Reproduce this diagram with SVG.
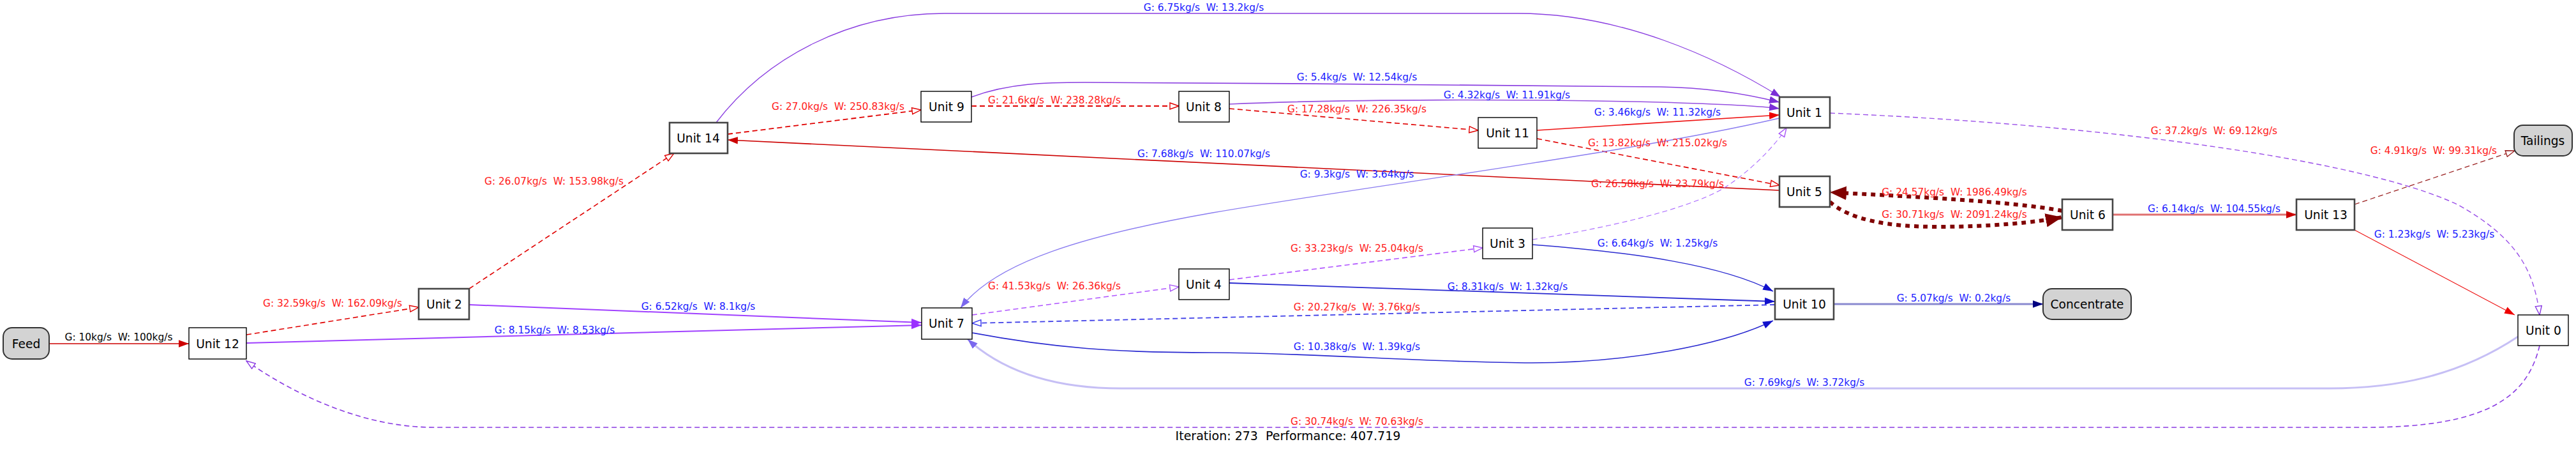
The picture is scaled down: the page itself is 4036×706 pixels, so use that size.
<svg xmlns="http://www.w3.org/2000/svg" width="4036" height="706" viewBox="0 0 4036 706">
<style>
.nd rect{fill:#fff;stroke:#000;stroke-width:1.4}
.nd.g rect{stroke:#454545;stroke-width:2.6}
.nd.t rect{fill:#d3d3d3;stroke:#333;stroke-width:2}
.nd text{font-family:"DejaVu Sans",sans-serif;font-size:18.67px;fill:#000;text-anchor:middle}
.e path{fill:none}
.lb text{font-family:"DejaVu Sans",sans-serif;font-size:15.4px;text-anchor:middle;white-space:pre}
.r{fill:#ff1a1a}.b{fill:#1a1aff}.k{fill:#000}
.d{stroke-dasharray:8,5}
.title{font-family:"DejaVu Sans",sans-serif;font-size:19px;fill:#000;text-anchor:middle;white-space:pre}
</style>
<defs>
<marker id="fR" markerUnits="userSpaceOnUse" markerWidth="16" markerHeight="12" refX="14" refY="5" orient="auto" viewBox="0 0 14 10"><path d="M0,0L14,5L0,10z" fill="#cc0000"/></marker>
<marker id="fR2" markerUnits="userSpaceOnUse" markerWidth="16" markerHeight="12" refX="14" refY="5" orient="auto" viewBox="0 0 14 10"><path d="M0,0L14,5L0,10z" fill="#ee0000"/></marker>
<marker id="oR" markerUnits="userSpaceOnUse" markerWidth="16" markerHeight="12" refX="14" refY="5" orient="auto" viewBox="-1 -1 16 12"><path d="M0,0L14,5L0,10z" fill="#fff" stroke="#e00000" stroke-width="1.4"/></marker>
<marker id="oDR" markerUnits="userSpaceOnUse" markerWidth="16" markerHeight="12" refX="14" refY="5" orient="auto" viewBox="-1 -1 16 12"><path d="M0,0L14,5L0,10z" fill="#fff" stroke="#9a2020" stroke-width="1.4"/></marker>
<marker id="fP" markerUnits="userSpaceOnUse" markerWidth="16" markerHeight="12" refX="14" refY="5" orient="auto" viewBox="0 0 14 10"><path d="M0,0L14,5L0,10z" fill="#9b30ff"/></marker>
<marker id="fV" markerUnits="userSpaceOnUse" markerWidth="16" markerHeight="12" refX="14" refY="5" orient="auto" viewBox="0 0 14 10"><path d="M0,0L14,5L0,10z" fill="#7b2fd6"/></marker>
<marker id="oP" markerUnits="userSpaceOnUse" markerWidth="16" markerHeight="12" refX="14" refY="5" orient="auto" viewBox="-1 -1 16 12"><path d="M0,0L14,5L0,10z" fill="#fff" stroke="#a855f7" stroke-width="1.4"/></marker>
<marker id="oV" markerUnits="userSpaceOnUse" markerWidth="16" markerHeight="12" refX="14" refY="5" orient="auto" viewBox="-1 -1 16 12"><path d="M0,0L14,5L0,10z" fill="#fff" stroke="#8a3be2" stroke-width="1.4"/></marker>
<marker id="fL" markerUnits="userSpaceOnUse" markerWidth="16" markerHeight="12" refX="14" refY="5" orient="auto" viewBox="0 0 14 10"><path d="M0,0L14,5L0,10z" fill="#7b68ee"/></marker>
<marker id="fB" markerUnits="userSpaceOnUse" markerWidth="16" markerHeight="12" refX="14" refY="5" orient="auto" viewBox="0 0 14 10"><path d="M0,0L14,5L0,10z" fill="#1111cc"/></marker>
<marker id="oB" markerUnits="userSpaceOnUse" markerWidth="16" markerHeight="12" refX="14" refY="5" orient="auto" viewBox="-1 -1 16 12"><path d="M0,0L14,5L0,10z" fill="#fff" stroke="#3333ee" stroke-width="1.4"/></marker>
<marker id="fN" markerUnits="userSpaceOnUse" markerWidth="16" markerHeight="12" refX="14" refY="5" orient="auto" viewBox="0 0 14 10"><path d="M0,0L14,5L0,10z" fill="#000080"/></marker>
<marker id="fDR" markerUnits="userSpaceOnUse" markerWidth="26" markerHeight="22" refX="24" refY="10" orient="auto" viewBox="0 0 24 20"><path d="M0,0L24,10L0,20z" fill="#800000"/></marker>
</defs>

<g id="edges" class="e">
<path id="e_feed_12" d="M77,538L296,538" stroke="#cc0000" stroke-width="1.6" marker-end="url(#fR)"/>
<path id="e_12_2" class="d" d="M386,524L656,481" stroke="#e00000" stroke-width="1.6" marker-end="url(#oR)"/>
<path id="e_12_7" d="M386,537L1444,509" stroke="#a040ff" stroke-width="2" marker-end="url(#fP)"/>
<path id="e_2_7" d="M735,477L1444,505" stroke="#a040ff" stroke-width="2" marker-end="url(#fP)"/>
<path id="e_2_14" class="d" d="M735,452L1056,240" stroke="#e00000" stroke-width="1.6" marker-end="url(#oR)"/>
<path id="e_14_9" class="d" d="M1140,210L1443,172" stroke="#e00000" stroke-width="1.8" marker-end="url(#oR)"/>
<path id="e_5_14" d="M2788,298L1140,219" stroke="#cc0000" stroke-width="1.6" marker-end="url(#fR)"/>
<path id="e_14_1" d="M1122,192C1200,90 1330,21 1480,21L2378,21C2540,21 2690,90 2790,152" stroke="#8a3ee0" stroke-width="1.3" marker-end="url(#fV)"/>
<path id="e_9_8" class="d" d="M1522,166L1847,166" stroke="#e00000" stroke-width="1.8" marker-end="url(#oR)"/>
<path id="e_9_1" d="M1522,152C1580,130 1640,129 1700,129C2000,129 2400,136 2602,136C2680,137 2740,148 2788,160" stroke="#8a3ee0" stroke-width="1.6" marker-end="url(#fV)"/>
<path id="e_8_1" d="M1926,163C2100,155 2400,155 2600,160C2700,163 2760,166 2788,170" stroke="#9650e0" stroke-width="1.6" marker-end="url(#fV)"/>
<path id="e_8_11" class="d" d="M1926,170L2316,204" stroke="#e00000" stroke-width="1.6" marker-end="url(#oR)"/>
<path id="e_11_1" d="M2408,204L2788,180" stroke="#ee1111" stroke-width="1.6" marker-end="url(#fR2)"/>
<path id="e_11_5" class="d" d="M2408,217L2788,290" stroke="#e00000" stroke-width="1.6" marker-end="url(#oR)"/>
<path id="e_1_7" d="M2788,185C2550,240 2150,290 1900,333C1700,368 1560,410 1505,482" stroke="#8a7cf0" stroke-width="1.3" marker-end="url(#fL)"/>
<path id="e_3_1" class="d" d="M2401,375C2500,360 2640,330 2700,295C2740,270 2780,230 2799,200" stroke="#a866ff" stroke-width="1.1" marker-end="url(#oP)"/>
<path id="e_1_0" class="d" d="M2867,177C3300,195 3700,250 3850,320C3940,370 3970,420 3979,493" stroke="#9a4ee8" stroke-width="1.4" marker-end="url(#oV)"/>
<path id="e_13_0" d="M3689,360L3940,493" stroke="#ee1111" stroke-width="1.1" marker-end="url(#fR2)"/>
<path id="e_13_t" class="d" d="M3689,320L3940,236" stroke="#9a2020" stroke-width="1.3" marker-end="url(#oDR)"/>
<path id="e_6_13" d="M3310,336L3598,336" stroke="#e07070" stroke-width="2.8" marker-end="url(#fR)"/>
<path id="e_6_5" d="M3231,330C3150,315 3000,308 2867,301" stroke="#800000" stroke-width="6" stroke-dasharray="7,7" marker-end="url(#fDR)"/>
<path id="e_5_6" d="M2867,316C2900,345 2960,355 3036,355C3120,355 3190,348 3231,340" stroke="#800000" stroke-width="6" stroke-dasharray="7,7" marker-end="url(#fDR)"/>
<path id="e_10_c" d="M2873,476L3201,476" stroke="#8a8ad0" stroke-width="3" marker-end="url(#fN)"/>
<path id="e_0_7" d="M3945,527C3850,590 3750,608 3650,608L1757,608C1650,608 1570,580 1516,531" stroke="#c6bff5" stroke-width="3" marker-end="url(#fL)"/>
<path id="e_0_12" class="d" d="M3979,541C3960,620 3900,669 3706,669L680,669C560,669 450,610 386,565" stroke="#8a3be2" stroke-width="1.6" marker-end="url(#oV)"/>
<path id="e_10_7" class="d" d="M2781,477L1523,506" stroke="#4040e8" stroke-width="1.8" marker-end="url(#oB)"/>
<path id="e_7_10" d="M1523,521C1650,545 1750,552 1900,552C2050,552 2250,568 2400,568C2550,568 2700,540 2778,502" stroke="#2a2ad0" stroke-width="1.6" marker-end="url(#fB)"/>
<path id="e_7_4" class="d" d="M1523,493L1847,449" stroke="#b055ff" stroke-width="1.6" marker-end="url(#oP)"/>
<path id="e_4_3" class="d" d="M1926,438L2323,388" stroke="#b055ff" stroke-width="1.6" marker-end="url(#oP)"/>
<path id="e_4_10" d="M1926,443L2781,472" stroke="#2a2ad0" stroke-width="1.8" marker-end="url(#fB)"/>
<path id="e_3_10" d="M2401,383C2560,395 2700,415 2778,456" stroke="#2a2ad0" stroke-width="1.5" marker-end="url(#fB)"/>
</g>

<g id="edge-labels" class="lb" xml:space="preserve"><text class="k" x="186" y="533">G: 10kg/s  W: 100kg/s</text><text class="r" x="521" y="480">G: 32.59kg/s  W: 162.09kg/s</text><text class="b" x="869" y="522">G: 8.15kg/s  W: 8.53kg/s</text><text class="b" x="1094" y="485">G: 6.52kg/s  W: 8.1kg/s</text><text class="r" x="868" y="289">G: 26.07kg/s  W: 153.98kg/s</text><text class="r" x="1313" y="172">G: 27.0kg/s  W: 250.83kg/s</text><text class="b" x="1886" y="17">G: 6.75kg/s  W: 13.2kg/s</text><text class="r" x="1652" y="162">G: 21.6kg/s  W: 238.28kg/s</text><text class="b" x="2126" y="126">G: 5.4kg/s  W: 12.54kg/s</text><text class="b" x="2361" y="154">G: 4.32kg/s  W: 11.91kg/s</text><text class="r" x="2126" y="176">G: 17.28kg/s  W: 226.35kg/s</text><text class="b" x="2597" y="181">G: 3.46kg/s  W: 11.32kg/s</text><text class="r" x="2597" y="229">G: 13.82kg/s  W: 215.02kg/s</text><text class="b" x="1886" y="246">G: 7.68kg/s  W: 110.07kg/s</text><text class="b" x="2126" y="278">G: 9.3kg/s  W: 3.64kg/s</text><text class="r" x="2597" y="293">G: 26.58kg/s  W: 23.79kg/s</text><text class="r" x="3469" y="210">G: 37.2kg/s  W: 69.12kg/s</text><text class="r" x="3062" y="306">G: 24.57kg/s  W: 1986.49kg/s</text><text class="r" x="3062" y="341">G: 30.71kg/s  W: 2091.24kg/s</text><text class="b" x="3469" y="332">G: 6.14kg/s  W: 104.55kg/s</text><text class="r" x="3813" y="241">G: 4.91kg/s  W: 99.31kg/s</text><text class="b" x="3814" y="372">G: 1.23kg/s  W: 5.23kg/s</text><text class="b" x="3061" y="472">G: 5.07kg/s  W: 0.2kg/s</text><text class="b" x="2827" y="604">G: 7.69kg/s  W: 3.72kg/s</text><text class="r" x="2126" y="665">G: 30.74kg/s  W: 70.63kg/s</text><text class="r" x="2126" y="486">G: 20.27kg/s  W: 3.76kg/s</text><text class="b" x="2126" y="548">G: 10.38kg/s  W: 1.39kg/s</text><text class="r" x="1652" y="453">G: 41.53kg/s  W: 26.36kg/s</text><text class="r" x="2126" y="394">G: 33.23kg/s  W: 25.04kg/s</text><text class="b" x="2362" y="454">G: 8.31kg/s  W: 1.32kg/s</text><text class="b" x="2597" y="386">G: 6.64kg/s  W: 1.25kg/s</text></g>

<g id="Feed" class="nd t"><rect x="5" y="513" width="72" height="49" rx="14"/><text x="41" y="545">Feed</text></g>
<g id="Unit12" class="nd"><rect x="296" y="513" width="90" height="49"/><text x="341" y="545">Unit 12</text></g>
<g id="Unit2" class="nd g"><rect x="656" y="452" width="79" height="48"/><text x="696" y="483">Unit 2</text></g>
<g id="Unit14" class="nd g"><rect x="1049" y="192" width="91" height="48"/><text x="1094" y="223">Unit 14</text></g>
<g id="Unit9" class="nd"><rect x="1443" y="143" width="79" height="48"/><text x="1483" y="174">Unit 9</text></g>
<g id="Unit8" class="nd"><rect x="1847" y="143" width="79" height="48"/><text x="1886" y="174">Unit 8</text></g>
<g id="Unit7" class="nd"><rect x="1444" y="482" width="79" height="49"/><text x="1483" y="513">Unit 7</text></g>
<g id="Unit4" class="nd"><rect x="1847" y="421" width="79" height="48"/><text x="1886" y="452">Unit 4</text></g>
<g id="Unit11" class="nd"><rect x="2316" y="184" width="92" height="48"/><text x="2362" y="215">Unit 11</text></g>
<g id="Unit3" class="nd"><rect x="2323" y="357" width="78" height="48"/><text x="2362" y="388">Unit 3</text></g>
<g id="Unit1" class="nd g"><rect x="2788" y="152" width="79" height="48"/><text x="2827" y="183">Unit 1</text></g>
<g id="Unit5" class="nd g"><rect x="2788" y="276" width="79" height="48"/><text x="2827" y="307">Unit 5</text></g>
<g id="Unit10" class="nd g"><rect x="2781" y="452" width="92" height="48"/><text x="2827" y="483">Unit 10</text></g>
<g id="Unit6" class="nd g"><rect x="3231" y="312" width="79" height="48"/><text x="3271" y="343">Unit 6</text></g>
<g id="Concentrate" class="nd t"><rect x="3201" y="452" width="138" height="48" rx="14"/><text x="3270" y="483">Concentrate</text></g>
<g id="Unit13" class="nd g"><rect x="3598" y="312" width="91" height="48"/><text x="3644" y="343">Unit 13</text></g>
<g id="Tailings" class="nd t"><rect x="3939" y="196" width="91" height="48" rx="14"/><text x="3984" y="227">Tailings</text></g>
<g id="Unit0" class="nd"><rect x="3945" y="493" width="79" height="48"/><text x="3985" y="524">Unit 0</text></g>

<text class="title" x="2018" y="689" xml:space="preserve">Iteration: 273  Performance: 407.719</text>
</svg>
